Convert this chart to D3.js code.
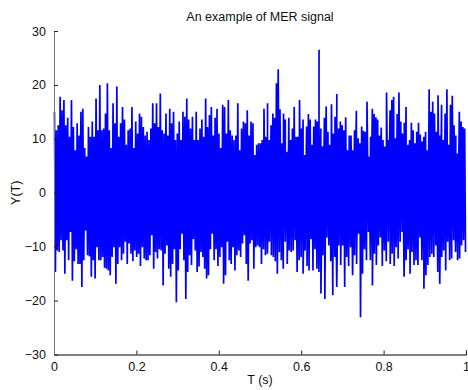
<!DOCTYPE html>
<html>
<head>
<meta charset="utf-8">
<script src="https://cdn.jsdelivr.net/npm/d3@7"></script>
<style>
  body { margin: 0; background: #fff; }
  text { font-family: "Liberation Sans", Arial, sans-serif; fill: #111; }
</style>
</head>
<body>
<script>
// signal envelope: local maxima / minima, first and second half of the record
const peaksFirstHalf = [15.0, 11.6, 12.5, 17.8, 15.3, 17.2, 12.5, 13.9, 10.4, 17.2, 12.2, 7.9, 12.9, 10.6, 15.0, 15.6, 8.3, 6.7, 12.2, 10.4,
  13.2, 10.4, 17.5, 11.6, 20.0, 11.6, 11.9, 14.7, 20.3, 11.6, 8.3, 16.6, 12.9, 19.7, 10.4, 12.9, 15.9, 13.6, 8.9, 11.6,
  11.9, 15.9, 8.3, 13.2, 11.0, 14.7, 14.1, 12.2, 10.6, 11.3, 9.8, 11.9, 16.6, 12.9, 16.6, 12.2, 18.4, 11.6, 11.0, 14.7,
  10.6, 15.6, 12.9, 15.0, 9.8, 11.0, 13.2, 9.8, 15.0, 14.1, 17.5, 13.6, 11.9, 14.1, 9.8, 15.0, 9.8, 11.9, 13.6, 10.4,
  17.5, 12.2, 14.4, 15.9, 10.6, 13.9, 15.6, 11.0, 8.3, 16.3, 15.9, 11.0, 17.2, 11.6, 10.6, 9.8, 10.6, 16.6, 7.9, 11.9,
  13.2, 12.9, 15.3, 10.6, 13.2, 12.9, 7.0, 8.9, 9.2];
const peaksSecondHalf = [9.2, 9.8, 15.6, 10.4, 16.6, 9.8, 12.5, 14.7, 13.9, 20.3, 22.9, 15.5, 9.2, 14.7, 13.6, 7.6, 13.9, 9.8, 11.9, 15.9,
  10.4, 10.4, 17.2, 11.9, 13.6, 7.0, 12.3, 14.6, 13.6, 8.9, 12.3, 13.6, 13.2, 26.5, 11.9, 8.6, 13.9, 16.0, 11.3, 8.9,
  16.4, 11.0, 14.1, 18.3, 11.9, 13.2, 12.5, 11.6, 14.0, 7.9, 10.6, 10.6, 7.9, 11.6, 15.2, 10.1, 9.2, 12.3, 11.5, 11.3,
  16.9, 6.7, 10.4, 15.6, 14.6, 14.0, 13.6, 10.6, 12.1, 9.8, 8.6, 18.6, 9.8, 15.3, 17.2, 17.8, 10.1, 14.6, 18.6, 13.2,
  11.0, 13.0, 15.9, 8.9, 9.8, 13.0, 11.6, 9.2, 11.3, 13.0, 10.8, 9.5, 10.4, 11.3, 7.9, 19.2, 15.0, 16.9, 14.7, 11.3,
  18.1, 10.6, 16.3, 9.8, 14.7, 19.2, 8.9, 16.3, 18.0, 12.5, 10.6, 7.3, 15.0, 13.2, 12.2, 11.9];
const troughsFirstHalf = [-14.7, -10.7, -11.0, -8.8, -10.7, -15.0, -8.8, -12.5, -7.3, -16.3, -12.7, -10.5, -13.2, -13.2, -17.5, -12.5, -7.0, -11.6, -11.8, -15.6,
  -12.5, -15.9, -10.1, -12.5, -12.5, -11.9, -13.9, -14.1, -14.4, -15.3, -11.9, -10.1, -16.9, -13.2, -10.1, -12.5, -11.3, -9.1, -13.2, -9.4,
  -11.3, -12.7, -10.7, -11.9, -11.3, -13.6, -10.1, -12.2, -12.5, -12.5, -11.6, -7.9, -14.1, -11.0, -12.2, -10.5, -10.7, -17.2, -11.3, -9.8,
  -14.1, -15.6, -13.2, -10.5, -20.3, -14.4, -10.5, -7.6, -12.5, -19.7, -14.7, -11.6, -13.4, -8.6, -10.7, -14.7, -13.7, -11.0, -11.9, -14.1,
  -15.9, -15.3, -10.5, -7.6, -12.5, -10.5, -13.6, -11.9, -10.1, -16.9, -15.3, -9.1, -12.5, -13.2, -10.1, -14.4, -11.6, -10.7, -11.9, -9.4,
  -7.9, -13.2, -16.3, -9.4, -8.8, -14.1, -10.1, -9.8, -10.1];
const troughsSecondHalf = [-13.2, -10.5, -11.6, -11.3, -9.1, -11.6, -11.9, -12.7, -15.0, -11.0, -12.5, -14.1, -9.1, -13.2, -10.7, -11.0, -10.7, -8.8, -14.7, -12.5,
  -11.9, -15.0, -10.7, -13.6, -14.4, -8.6, -14.4, -10.5, -14.1, -14.7, -18.7, -11.6, -19.7, -8.3, -9.8, -12.7, -19.0, -11.9, -17.5, -9.8,
  -13.4, -9.8, -17.5, -11.9, -13.6, -10.1, -15.3, -11.6, -13.2, -7.6, -23.1, -15.0, -10.5, -12.5, -7.3, -12.5, -17.2, -11.3, -13.4, -9.8,
  -8.3, -13.6, -10.7, -12.7, -9.1, -13.2, -11.3, -13.6, -10.1, -12.2, -9.1, -7.3, -15.6, -12.5, -10.5, -15.0, -11.0, -13.4, -12.5, -13.4,
  -8.3, -12.5, -17.8, -15.3, -13.4, -11.9, -11.3, -11.9, -9.8, -14.7, -16.9, -11.9, -10.7, -14.4, -9.1, -12.5, -12.2, -8.8, -11.0, -12.5,
  -12.2, -9.8, -8.8, -11.0];

const xTicks = [0, 0.2, 0.4, 0.6, 0.8, 1];
const yTicks = [-30, -20, -10, 0, 10, 20, 30];

const W = 468, H = 390;
const x = d3.scaleLinear().domain([0, 1]).range([54, 466]);
const y = d3.scaleLinear().domain([-30, 30]).range([354.5, 31]);

// each half's samples on its own time span; troughs sit half a step after peaks so the trace zigzags
function place(vals, t0, phase) {
  return vals.map((v, i) => ({t: t0 + (i + phase) / vals.length * 0.5, v: v}));
}
const merged = [].concat(
  place(peaksFirstHalf, 0, 0.25), place(troughsFirstHalf, 0, 0.75),
  place(peaksSecondHalf, 0.5, 0.25), place(troughsSecondHalf, 0.5, 0.75)
).sort((a, b) => a.t - b.t);

// drawing order: when two peaks (or two troughs) follow each other,
// go back through the last point of the other kind so the band stays filled
const signal = [];
let lastUp = null, lastDown = null;
merged.forEach(p => {
  const prev = signal[signal.length - 1];
  if (prev && (prev.v > 0) === (p.v > 0)) {
    const other = p.v > 0 ? lastDown : lastUp;
    if (other) signal.push(other);
  }
  signal.push(p);
  if (p.v > 0) lastUp = p; else lastDown = p;
});

const svg = d3.select("body").append("svg")
    .attr("width", W)
    .attr("height", H);

// signal trace
const line = d3.line().x(d => x(d.t)).y(d => y(d.v));
svg.append("path")
    .datum(signal)
    .attr("d", line)
    .attr("fill", "none")
    .attr("stroke", "#0000ff")
    .attr("stroke-width", 1.7);

// axes (ticks inward, matlab style)
const fmt = d => d < 0 ? "\u2212" + Math.abs(d) : String(d);
const gx = svg.append("g")
    .attr("transform", `translate(0,${y(-30)})`)
    .call(d3.axisBottom(x).tickValues(xTicks).tickSize(-4).tickPadding(8).tickFormat(d => String(d)));
const gy = svg.append("g")
    .attr("transform", `translate(${x(0)},0)`)
    .call(d3.axisLeft(y).tickValues(yTicks).tickSize(-4).tickPadding(8).tickFormat(fmt));

svg.selectAll(".domain").attr("stroke", "#000");
gy.select(".domain").attr("stroke", "#777");
svg.selectAll(".tick line").attr("stroke", "#222");
svg.selectAll(".tick text")
    .style("font-family", '"Liberation Sans", Arial, sans-serif')
    .style("font-size", "12.5px")
    .attr("fill", "#111");

// title and labels
svg.append("text")
    .attr("x", (x(0) + x(1)) / 2)
    .attr("y", 21)
    .attr("text-anchor", "middle")
    .style("font-size", "12.5px")
    .text("An example of MER signal");

svg.append("text")
    .attr("x", (x(0) + x(1)) / 2)
    .attr("y", 384)
    .attr("text-anchor", "middle")
    .style("font-size", "12.5px")
    .text("T (s)");

svg.append("text")
    .attr("transform", `translate(19.5,${(y(-30) + y(30)) / 2}) rotate(-90)`)
    .attr("text-anchor", "middle")
    .style("font-size", "12.5px")
    .text("Y(T)");
</script>
</body>
</html>
